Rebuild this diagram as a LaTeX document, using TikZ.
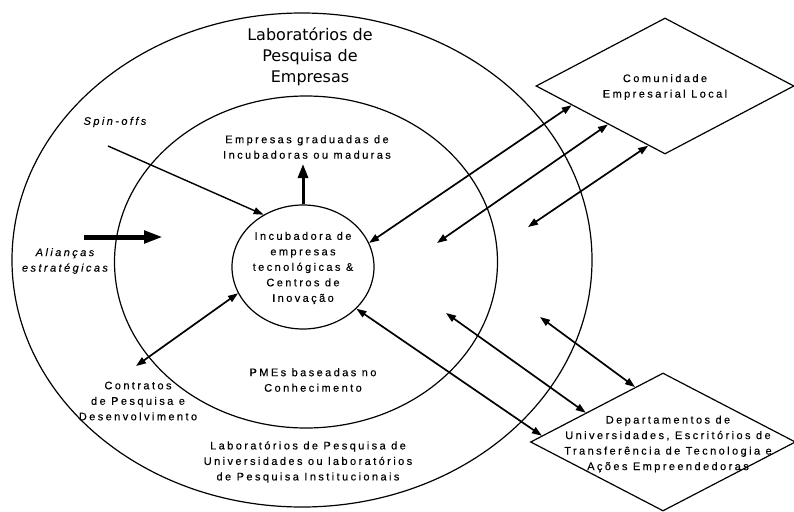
\documentclass[tikz,border=0pt]{standalone}
\usepackage{fontspec}
\setmainfont{Liberation Sans}
\newfontfamily\lbl{Liberation Sans}[LetterSpace=22, FakeBold=0.3]
\newfontfamily\ttl{DejaVu Sans}
\usetikzlibrary{shapes.geometric,arrows.meta,calc}
\tikzset{
  ring/.style={draw, ellipse, line width=1.2pt, inner sep=0pt},
  rhomb/.style={draw, diamond, line width=1.2pt, inner sep=0pt},
  txt/.style={font=\lbl\fontsize{11}{15.5}\selectfont, align=center},
  slant/.style={font=\lbl\itshape\fontsize{11}{15.5}\selectfont, align=center},
  link/.style={line width=1.7pt, <->}
}
\begin{document}
\begin{tikzpicture}[x=1pt, y=-1pt, >={Triangle[length=10pt,width=7pt]}]
  \useasboundingbox (0,0) rectangle (794,511);
  \node[ring, minimum width=580pt, minimum height=494pt] (outer) at (302,260) {};
  \node[ring, minimum width=383pt, minimum height=332pt] (mid) at (306,262) {};
  \node[ring, minimum width=142pt, minimum height=124pt] (inc) at (303,267) {};
  \node[rhomb, minimum width=258pt, minimum height=136pt] (com) at (665,86) {};
  \node[rhomb, minimum width=265pt, minimum height=138pt] (dep) at (663,442) {};

  \node[font=\ttl\fontsize{16}{21}\selectfont, align=center] (labemp) at (310,57)
    {Laboratórios de\\Pesquisa de\\Empresas};
  \node[slant] (spinlbl) at (115,122) {Spin-offs};
  \node[txt] (gradlbl) at (307,147) {Empresas graduadas de\\Incubadoras ou maduras};
  \node[slant] (alilbl) at (65,261) {Alianças\\estratégicas};
  \node[txt] (inclbl) at (303,268)
    {Incubadora de\\empresas\\tecnológicas \&\\Centros de\\Inovação};
  \node[txt] (pmelbl) at (313,380) {PMEs baseadas no\\Conhecimento};
  \node[txt] (contlbl) at (138,401) {Contratos\\de Pesquisa e\\Desenvolvimento};
  \node[txt] (univlbl) at (308,462)
    {Laboratórios de Pesquisa de\\Universidades ou laboratórios\\de Pesquisa Institucionais};
  \node[txt] (comlbl) at (665,87) {Comunidade\\Empresarial Local};
  \node[txt] (deplbl) at (668,444)
    {Departamentos de\\Universidades, Escritórios de\\Transferência de Tecnologia e\\Ações Empreendedoras};

  \coordinate (spin) at (108,146);
  \coordinate (ali1) at (84,237);
  \coordinate (ali2) at (163,237);
  \coordinate (grad) at (303,164);
  \coordinate (cont) at (136,366);
  \coordinate (com2) at (437,243);
  \coordinate (com3) at (528,227);
  \coordinate (dep2) at (446,313);
  \coordinate (dep3) at (540,317);

  \draw[->, line width=1.4pt] (spin) -- (inc.127);
  \draw[->, line width=5pt, >={Triangle[length=19pt,width=12pt]}] (ali1) -- (ali2);
  \draw[->, line width=3pt, >={Triangle[length=14pt,width=10pt]}] (inc.north) -- (grad);
  \draw[link] (cont) -- (inc.202);
  \draw[link] (inc.20) -- ($(com.west)!0.28!(com.south)$);
  \draw[link] (com2) -- ($(com.west)!0.56!(com.south)$);
  \draw[link] (com3) -- ($(com.west)!0.87!(com.south)$);
  \draw[link] (inc.-38) -- ($(dep.west)!0.09!(dep.north)$);
  \draw[link] (dep2) -- ($(dep.west)!0.42!(dep.north)$);
  \draw[link] (dep3) -- ($(dep.west)!0.79!(dep.north)$);
\end{tikzpicture}
\end{document}
